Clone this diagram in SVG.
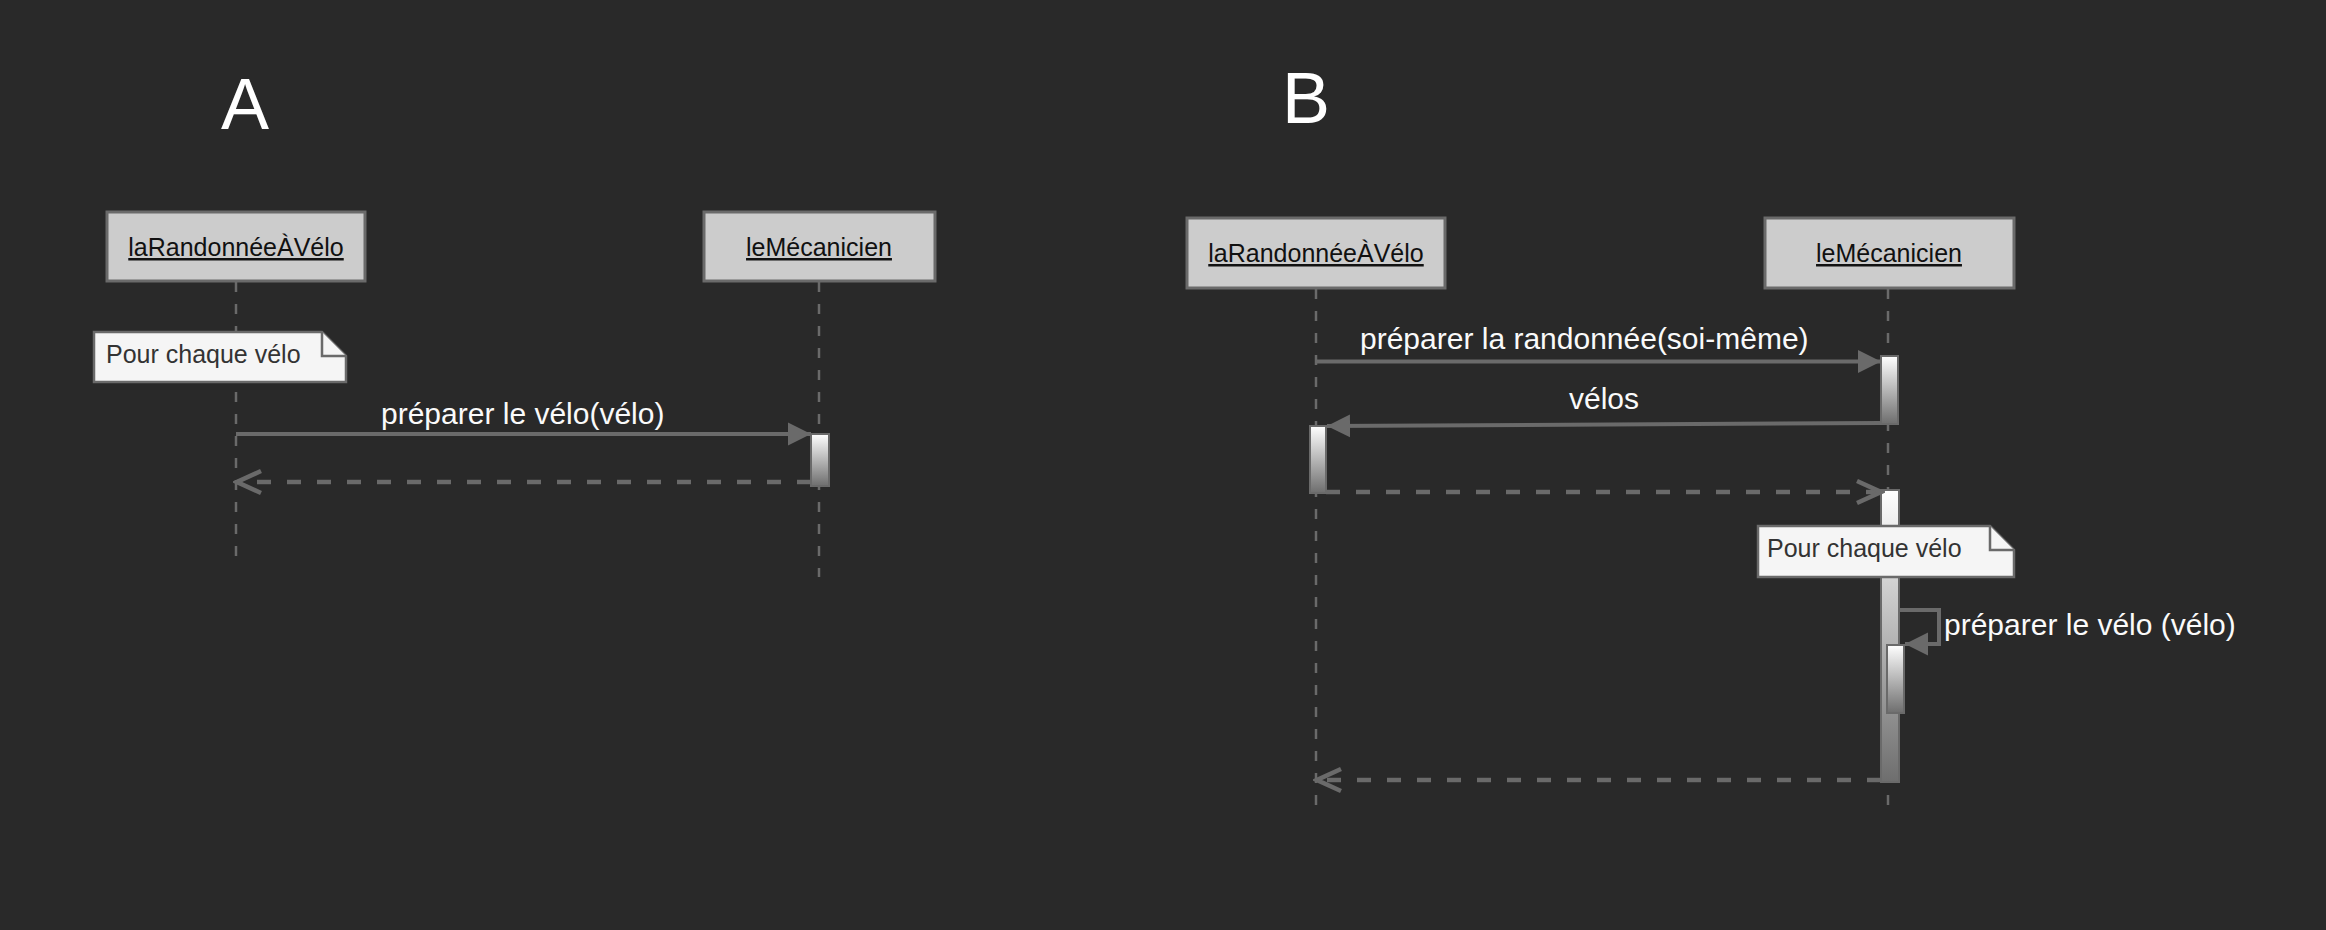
<svg xmlns="http://www.w3.org/2000/svg" width="2326" height="930" viewBox="0 0 2326 930">
<defs>
<linearGradient id="act" x1="0" y1="0" x2="0" y2="1">
<stop offset="0" stop-color="#ffffff"/>
<stop offset="1" stop-color="#6e6e6e"/>
</linearGradient>
<marker id="filled" viewBox="0 0 24 24" refX="23" refY="12" markerWidth="24" markerHeight="24" markerUnits="userSpaceOnUse" orient="auto">
<path d="M0,0.5 L23,12 L0,23.5 Z" fill="#6a6a6a"/>
</marker>
<marker id="open" viewBox="0 0 30 28" refX="26" refY="14" markerWidth="30" markerHeight="28" markerUnits="userSpaceOnUse" orient="auto">
<path d="M2,3 L26,14 L2,25" fill="none" stroke="#6a6a6a" stroke-width="4.5"/>
</marker>
</defs>
<style>
.bg{fill:#292929}
.title{font-family:"Liberation Sans",Arial,sans-serif;font-size:72px;fill:#ffffff}
.box{fill:#cccccc;stroke:#6a6a6a;stroke-width:3}
.boxtxt{font-family:"Liberation Sans",Arial,sans-serif;font-size:25px;fill:#111111;text-decoration:underline;text-anchor:middle}
.life{stroke:#6a6a6a;stroke-width:2.5;stroke-dasharray:10 12;fill:none}
.msg{stroke:#6a6a6a;stroke-width:4;fill:none}
.ret{stroke:#6a6a6a;stroke-width:4.5;fill:none;stroke-dasharray:14 16}
.lbl{font-family:"Liberation Sans",Arial,sans-serif;font-size:30px;fill:#fafafa}
.act{fill:url(#act);stroke:#6a6a6a;stroke-width:2}
.note{fill:#f5f5f5;stroke:#6a6a6a;stroke-width:2.5}
.notetxt{font-family:"Liberation Sans",Arial,sans-serif;font-size:25px;fill:#333333}
</style>
<rect class="bg" x="0" y="0" width="2326" height="930"/>

<text class="title" x="221" y="129">A</text>
<text class="title" x="1282" y="123">B</text>

<g id="lifelines">
<line class="life" x1="236" y1="282" x2="236" y2="568"/>
<line class="life" x1="819" y1="282" x2="819" y2="577"/>
<line class="life" x1="1316" y1="289" x2="1316" y2="806"/>
<line class="life" x1="1888" y1="289" x2="1888" y2="806"/>
</g>

<g id="A-laRandonneeAVelo">
<rect class="box" x="107" y="212" width="258" height="69"/>
<text class="boxtxt" x="236" y="256">laRandonnéeÀVélo</text>
</g>
<g id="A-leMecanicien">
<rect class="box" x="704" y="212" width="231" height="69"/>
<text class="boxtxt" x="819" y="256">leMécanicien</text>
</g>
<g id="B-laRandonneeAVelo">
<rect class="box" x="1187" y="218" width="258" height="70"/>
<text class="boxtxt" x="1316" y="262">laRandonnéeÀVélo</text>
</g>
<g id="B-leMecanicien">
<rect class="box" x="1765" y="218" width="249" height="70"/>
<text class="boxtxt" x="1889" y="262">leMécanicien</text>
</g>

<g id="activations">
<rect class="act" x="811" y="434" width="18" height="52"/>
<rect class="act" x="1881" y="356" width="17" height="68"/>
<rect class="act" x="1310" y="426" width="16" height="67"/>
<rect class="act" x="1881" y="490" width="18" height="292"/>
<rect class="act" x="1887" y="645" width="17" height="68"/>
</g>

<g id="connectors">
<line class="msg" x1="236" y1="434" x2="811" y2="434" marker-end="url(#filled)"/>
<line class="ret" x1="811" y1="482" x2="237" y2="482" marker-end="url(#open)"/>
<line class="msg" x1="1316" y1="361.5" x2="1881" y2="361.5" marker-end="url(#filled)"/>
<line class="msg" x1="1881" y1="423" x2="1327" y2="426" marker-end="url(#filled)"/>
<line class="ret" x1="1326" y1="492" x2="1881" y2="492" marker-end="url(#open)"/>
<path class="msg" d="M1898,610 L1939,610 L1939,644 L1905,644" marker-end="url(#filled)"/>
<line class="ret" x1="1881" y1="780" x2="1317" y2="780" marker-end="url(#open)"/>
</g>

<g id="labels">
<text class="lbl" x="381" y="424">préparer le vélo(vélo)</text>
<text class="lbl" x="1360" y="349">préparer la randonnée(soi-même)</text>
<text class="lbl" x="1569" y="409">vélos</text>
<text class="lbl" x="1944" y="635">préparer le vélo (vélo)</text>
</g>

<g id="note-A">
<path class="note" d="M94,332 L322,332 L346,356 L346,382 L94,382 Z"/>
<path class="note" d="M322,332 L322,356 L346,356" fill="none"/>
<text class="notetxt" x="106" y="363">Pour chaque vélo</text>
</g>
<g id="note-B">
<path class="note" d="M1758,526 L1990,526 L2014,550 L2014,577 L1758,577 Z"/>
<path class="note" d="M1990,526 L1990,550 L2014,550" fill="none"/>
<text class="notetxt" x="1767" y="557">Pour chaque vélo</text>
</g>
</svg>
